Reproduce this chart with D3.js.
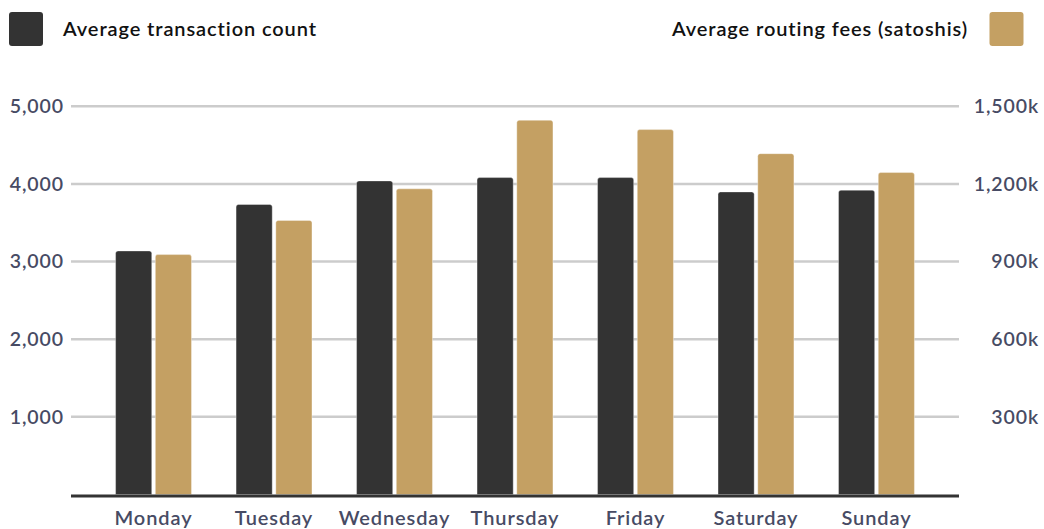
<!DOCTYPE html>
<html>
<head>
<meta charset="utf-8">
<script src="https://cdn.jsdelivr.net/npm/d3@7"></script>
<style>
  html, body { margin: 0; padding: 0; background: #fff; }
  svg { display: block; font-family: Lato, "Open Sans", sans-serif; }
  svg text { letter-spacing: 0.9px; }
</style>
</head>
<body>
<svg id="chart" width="1044" height="529"></svg>
<script>
// Weekday averages: transaction count (left axis) and routing fees in satoshis (right axis)
const days = ["Monday", "Tuesday", "Wednesday", "Thursday", "Friday", "Saturday", "Sunday"];
const txCount = [3137, 3735, 4039, 4082, 4082, 3897, 3919];
const routingFees = [927000, 1059000, 1181000, 1446000, 1410000, 1317000, 1244000];
const leftTicks = [1000, 2000, 3000, 4000, 5000];
const rightTicks = [300000, 600000, 900000, 1200000, 1500000];
const seriesNames = ["Average transaction count", "Average routing fees (satoshis)"];
const seriesColors = ["#333333", "#c4a063"];

const svg = d3.select("#chart");
const plotLeft = 71, plotRight = 959, plotTop = 106.3, plotBottom = 494.5;

const x = d3.scaleBand().domain(days).range([plotLeft, plotRight]).paddingInner(0.37).paddingOuter(0.37);
const xInner = d3.scaleBand().domain([0, 1]).range([0, x.bandwidth()]).paddingInner(0.09);
const yLeft = d3.scaleLinear().domain([0, 5000]).range([plotBottom, plotTop]);
const yRight = d3.scaleLinear().domain([0, 1500000]).range([plotBottom, plotTop]);

// Horizontal gridlines
svg.append("g")
  .selectAll("line")
  .data(leftTicks)
  .join("line")
  .attr("x1", plotLeft).attr("x2", plotRight)
  .attr("y1", d => yLeft(d)).attr("y2", d => yLeft(d))
  .attr("stroke", "#cccccc").attr("stroke-width", 2.5);

// Left axis labels
const axisLeft = svg.append("g")
  .attr("transform", `translate(${plotLeft},0)`)
  .call(d3.axisLeft(yLeft).tickValues(leftTicks).tickFormat(d3.format(",")).tickSize(0).tickPadding(7));
axisLeft.select(".domain").remove();
axisLeft.selectAll("text")
  .attr("fill", "#474b64").attr("font-size", 19.5).attr("font-weight", 600)
  .attr("font-family", "Lato, sans-serif");

// Right axis labels, right-aligned
const axisRight = svg.append("g")
  .attr("transform", `translate(${plotRight},0)`)
  .call(d3.axisRight(yRight).tickValues(rightTicks).tickFormat(d => d3.format(",")(d / 1000) + "k").tickSize(0).tickPadding(80));
axisRight.select(".domain").remove();
axisRight.selectAll("text")
  .attr("text-anchor", "end")
  .attr("fill", "#474b64").attr("font-size", 19.5).attr("font-weight", 600)
  .attr("font-family", "Lato, sans-serif");

// Bar with rounded top corners
function topRounded(x0, y0, w, h, r) {
  r = Math.min(r, h, w / 2);
  return `M${x0},${y0 + h}V${y0 + r}Q${x0},${y0} ${x0 + r},${y0}H${x0 + w - r}Q${x0 + w},${y0} ${x0 + w},${y0 + r}V${y0 + h}Z`;
}

const rows = days.map((d, i) => ({ day: d, vals: [yLeft(txCount[i]), yRight(routingFees[i])] }));

const groups = svg.append("g")
  .selectAll("g")
  .data(rows)
  .join("g")
  .attr("transform", d => `translate(${x(d.day)},0)`);

groups.selectAll("path")
  .data(d => d.vals.map((yv, k) => ({ yv, k })))
  .join("path")
  .attr("d", d => topRounded(xInner(d.k), d.yv, xInner.bandwidth(), plotBottom - d.yv, 2.5))
  .attr("fill", d => seriesColors[d.k])
  .attr("stroke", "#ffffff").attr("stroke-opacity", 0.35).attr("stroke-width", 1);

// Baseline
svg.append("line")
  .attr("x1", plotLeft).attr("x2", plotRight)
  .attr("y1", plotBottom + 1.5).attr("y2", plotBottom + 1.5)
  .attr("stroke", "#333333").attr("stroke-width", 3);

// Day labels
svg.append("g")
  .selectAll("text")
  .data(days)
  .join("text")
  .attr("x", d => x(d) + x.bandwidth() / 2)
  .attr("y", 525)
  .attr("text-anchor", "middle")
  .attr("fill", "#474b64").attr("font-size", 20).attr("font-weight", 600)
  .text(d => d);

// Legend
const legend = svg.append("g");
legend.append("rect").attr("x", 9).attr("y", 12).attr("width", 34).attr("height", 34).attr("rx", 3)
  .attr("fill", seriesColors[0]);
legend.append("text").attr("x", 63).attr("y", 35.5)
  .attr("fill", "#111111").attr("font-size", 20).attr("font-weight", 600)
  .text(seriesNames[0]);
legend.append("rect").attr("x", 989.5).attr("y", 12).attr("width", 34).attr("height", 34).attr("rx", 3)
  .attr("fill", seriesColors[1]);
legend.append("text").attr("x", 968).attr("y", 35.5).attr("text-anchor", "end")
  .attr("fill", "#111111").attr("font-size", 20).attr("font-weight", 600)
  .text(seriesNames[1]);
</script>
</body>
</html>
